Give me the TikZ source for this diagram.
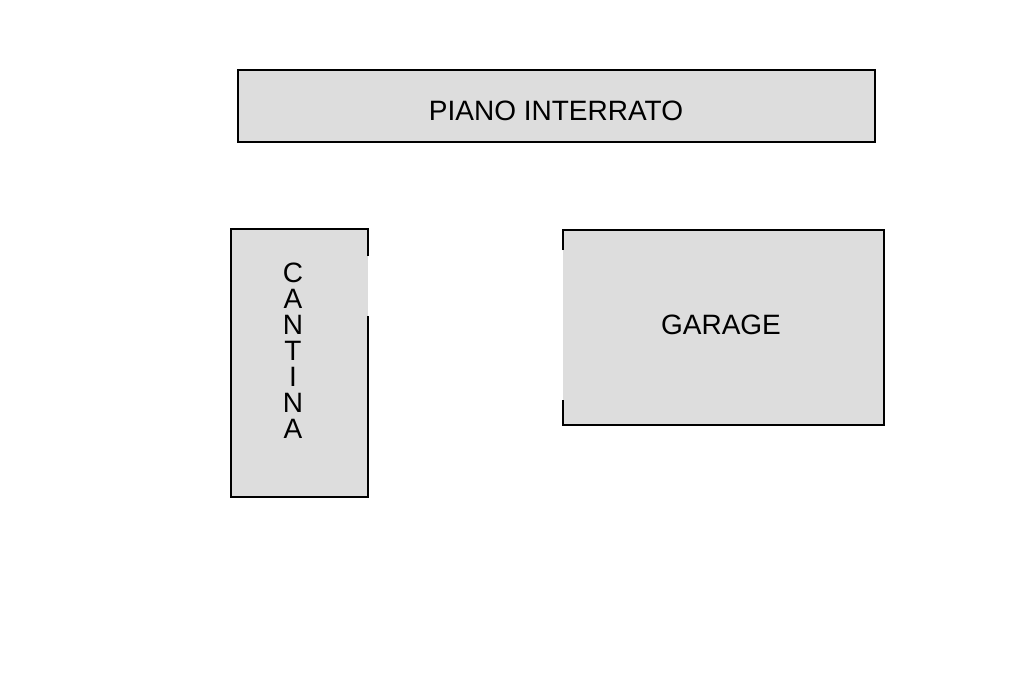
\documentclass[tikz,border=0pt]{standalone}
\usepackage{fontspec}
\setmainfont{Liberation Sans}
\begin{document}
\begin{tikzpicture}[x=1pt,y=-1pt,
  room/.style={fill=roomgray,draw=none},
  wall/.style={line width=2.5pt,line cap=square},
  lbl/.style={font=\fontsize{28}{26}\selectfont}]
\definecolor{roomgray}{HTML}{DDDDDD}
\useasboundingbox (0,0) rectangle (1024,682);
% piano interrato
\filldraw[fill=roomgray,wall] (238,70) rectangle (875,142);
\node[lbl] (pi) at (556,111) {PIANO INTERRATO};
% cantina
\fill[room] (231,229) rectangle (368,497);
\draw[wall] (368,256) -- (368,229) -- (231,229) -- (231,497) -- (368,497) -- (368,316);
\node[lbl,align=center,inner sep=0pt] (c) at (293,351) {C\\A\\N\\T\\I\\N\\A};
% garage
\fill[room] (563,230) rectangle (884,425);
\draw[wall] (563,250) -- (563,230) -- (884,230) -- (884,425) -- (563,425) -- (563,400);
\node[lbl] (g) at (721,325) {GARAGE};
\end{tikzpicture}
\end{document}
